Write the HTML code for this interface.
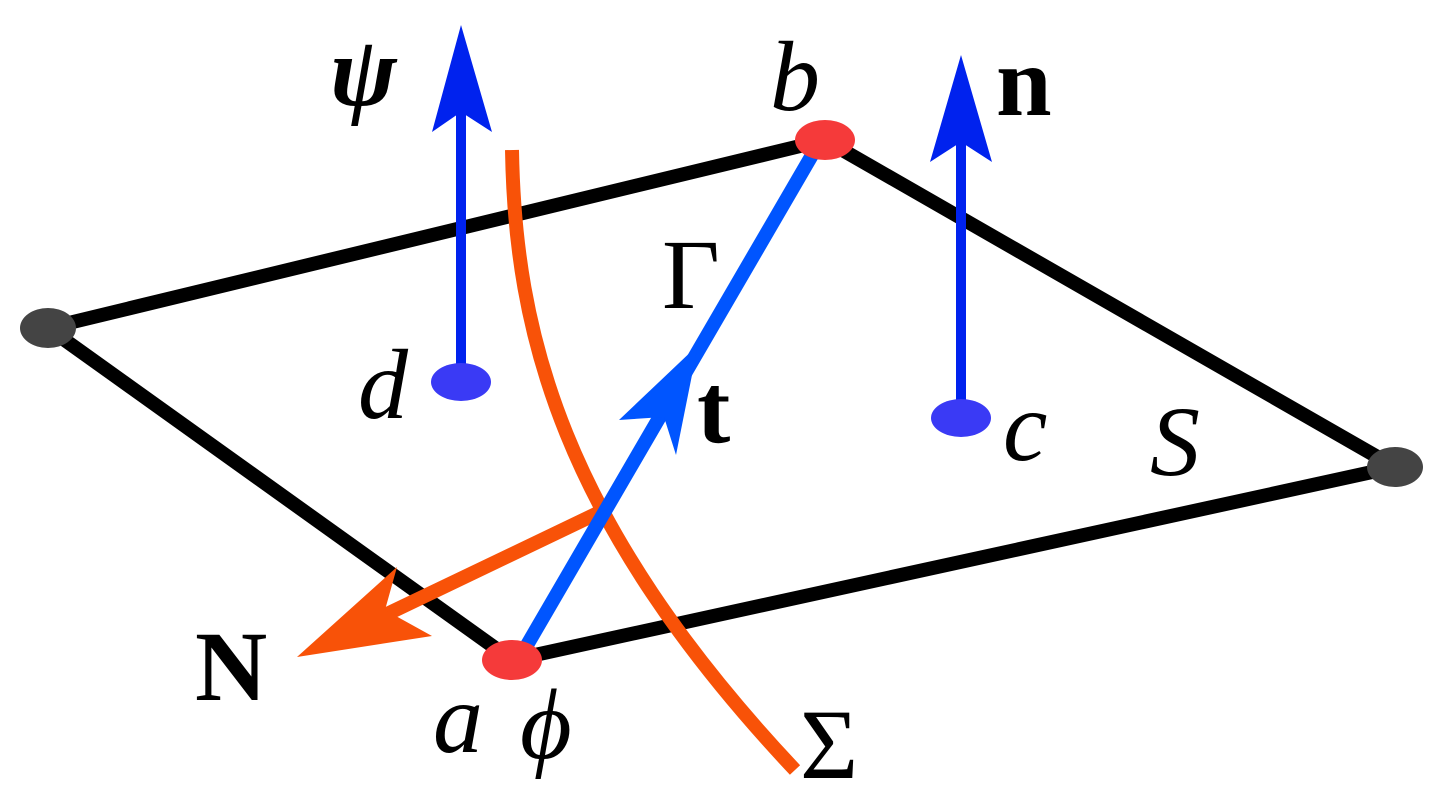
<!DOCTYPE html>
<html><head><style>html,body{margin:0;padding:0;background:#fff;}svg{display:block}</style></head>
<body>
<svg width="1446" height="812" viewBox="0 0 1446 812" xmlns="http://www.w3.org/2000/svg">
<polygon points="48,328 825,140 1395,467 512,660" fill="none" stroke="#000" stroke-width="14" stroke-linejoin="round"/>
<path d="M512,150 C515,330 560,520 795,770" fill="none" stroke="#f85208" stroke-width="14"/>
<line x1="600" y1="512" x2="360" y2="627" stroke="#f85208" stroke-width="14"/>
<polygon points="297,657 397,567 385,610 432,636" fill="#f85208"/>
<line x1="815" y1="150" x2="523" y2="652" stroke="#0055ff" stroke-width="14"/>
<polygon points="698,345 676,455 664,417 619,420" fill="#0055ff"/>
<line x1="461" y1="382" x2="461" y2="110" stroke="#0022ee" stroke-width="10"/>
<polygon points="461,25 492,132 461,112 432,132" fill="#0022ee"/>
<line x1="961" y1="412" x2="961" y2="140" stroke="#0022ee" stroke-width="10"/>
<polygon points="961,55 992,162 961,142 930,162" fill="#0022ee"/>
<ellipse cx="461" cy="382" rx="30" ry="19" fill="#3a3af5"/>
<ellipse cx="961" cy="418" rx="30" ry="19" fill="#3a3af5"/>
<ellipse cx="825" cy="140" rx="30" ry="20" fill="#f53a3a"/>
<ellipse cx="512" cy="660" rx="30" ry="20" fill="#f53a3a"/>
<ellipse cx="48" cy="328" rx="28" ry="20" fill="#444"/>
<ellipse cx="1395" cy="467" rx="28" ry="20" fill="#444"/>
<g style="font-family:'Liberation Serif',serif" font-size="100" fill="#000">
<text x="330" y="105" font-style="italic" font-weight="bold">ψ</text>
<text x="770" y="110" font-style="italic">b</text>
<text x="996" y="115" font-weight="bold">n</text>
<text x="662" y="308">Γ</text>
<text x="697" y="442" font-weight="bold">t</text>
<text x="358" y="418" font-style="italic">d</text>
<text x="1003" y="460" font-style="italic">c</text>
<text x="1150" y="475" font-style="italic">S</text>
<text x="195" y="700" font-weight="bold">N</text>
<text x="433" y="752" font-style="italic">a</text>
<text x="520" y="758" font-style="italic">ϕ</text>
<text x="800" y="778">Σ</text>
</g>
</svg>
</body></html>
